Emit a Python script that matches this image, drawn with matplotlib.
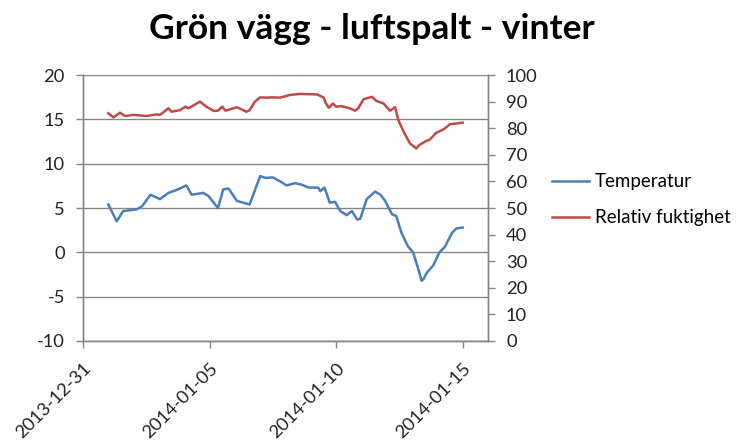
import matplotlib
matplotlib.use("Agg")
import matplotlib.pyplot as plt
import matplotlib.dates as mdates
import pandas as pd

title = "Grön vägg - luftspalt - vinter"
temp_label = "Temperatur"
rh_label = "Relativ fuktighet"

temp_times = [
    "2014-01-01 00:00", "2014-01-01 08:00", "2014-01-01 14:00", "2014-01-02 03:00",
    "2014-01-02 08:00", "2014-01-02 16:00", "2014-01-03 01:00", "2014-01-03 09:00",
    "2014-01-03 18:00", "2014-01-04 02:00", "2014-01-04 07:00", "2014-01-04 18:00",
    "2014-01-04 23:00", "2014-01-05 08:00", "2014-01-05 13:00", "2014-01-05 18:00",
    "2014-01-06 02:00", "2014-01-06 08:00", "2014-01-06 14:00", "2014-01-07 00:00",
    "2014-01-07 05:00", "2014-01-07 12:00", "2014-01-07 19:00", "2014-01-08 01:00",
    "2014-01-08 09:00", "2014-01-08 15:00", "2014-01-08 22:00", "2014-01-09 07:00",
    "2014-01-09 09:00", "2014-01-09 13:00", "2014-01-09 18:00", "2014-01-09 23:00",
    "2014-01-10 04:00", "2014-01-10 10:00", "2014-01-10 15:00", "2014-01-10 20:00",
    "2014-01-10 23:00", "2014-01-11 05:00", "2014-01-11 13:00", "2014-01-11 18:00",
    "2014-01-11 22:00", "2014-01-12 05:00", "2014-01-12 09:00", "2014-01-12 14:00",
    "2014-01-12 20:00", "2014-01-13 01:00", "2014-01-13 06:00", "2014-01-13 09:00",
    "2014-01-13 11:00", "2014-01-13 14:00", "2014-01-13 20:00", "2014-01-14 02:00",
    "2014-01-14 07:00", "2014-01-14 14:00", "2014-01-14 18:00", "2014-01-15 00:00",
]
temp_values = [
    5.4, 3.5, 4.65, 4.85, 5.2, 6.5, 6.0, 6.7,
    7.1, 7.55, 6.5, 6.7, 6.35, 5.0, 7.1, 7.2,
    5.8, 5.6, 5.4, 8.6, 8.4, 8.45, 8.0, 7.55,
    7.8, 7.65, 7.3, 7.3, 6.9, 7.3, 5.6, 5.7,
    4.65, 4.2, 4.65, 3.7, 3.8, 6.0, 6.85, 6.5,
    5.9, 4.3, 4.1, 2.2, 0.7, 0.0, -1.9, -3.2,
    -3.0, -2.3, -1.5, 0.0, 0.6, 2.2, 2.7, 2.8,
]

rh_times = [
    "2014-01-01 00:00", "2014-01-01 05:00", "2014-01-01 11:00", "2014-01-01 16:00",
    "2014-01-02 00:00", "2014-01-02 12:00", "2014-01-02 22:00", "2014-01-03 01:00",
    "2014-01-03 09:00", "2014-01-03 12:00", "2014-01-03 20:00", "2014-01-04 01:00",
    "2014-01-04 04:00", "2014-01-04 15:00", "2014-01-04 21:00", "2014-01-05 04:00",
    "2014-01-05 08:00", "2014-01-05 12:00", "2014-01-05 15:00", "2014-01-06 02:00",
    "2014-01-06 11:00", "2014-01-06 14:00", "2014-01-06 19:00", "2014-01-07 00:00",
    "2014-01-07 06:00", "2014-01-07 12:00", "2014-01-07 19:00", "2014-01-08 04:00",
    "2014-01-08 14:00", "2014-01-09 06:00", "2014-01-09 12:00", "2014-01-09 14:00",
    "2014-01-09 17:00", "2014-01-09 21:00", "2014-01-10 00:00", "2014-01-10 05:00",
    "2014-01-10 13:00", "2014-01-10 18:00", "2014-01-10 21:00", "2014-01-11 02:00",
    "2014-01-11 10:00", "2014-01-11 14:00", "2014-01-11 21:00", "2014-01-12 03:00",
    "2014-01-12 08:00", "2014-01-12 11:00", "2014-01-12 16:00", "2014-01-12 22:00",
    "2014-01-13 04:00", "2014-01-13 07:00", "2014-01-13 12:00", "2014-01-13 17:00",
    "2014-01-13 23:00", "2014-01-14 06:00", "2014-01-14 12:00", "2014-01-15 00:00",
]
rh_values = [
    85.6, 84.1, 85.8, 84.6, 85.0, 84.6, 85.2, 85.0,
    87.5, 86.2, 86.8, 88.1, 87.5, 90.0, 88.1, 86.5,
    86.6, 88.1, 86.6, 87.9, 86.2, 86.8, 90.0, 91.6,
    91.5, 91.6, 91.5, 92.5, 92.9, 92.7, 91.6, 89.6,
    87.7, 89.3, 88.1, 88.3, 87.5, 86.6, 87.5, 90.9,
    91.8, 90.3, 89.3, 86.6, 87.9, 83.1, 78.7, 74.3,
    72.4, 73.7, 74.9, 75.8, 78.3, 79.6, 81.5, 82.1,
]

x_ticks = ["2013-12-31", "2014-01-05", "2014-01-10", "2014-01-15"]
x_limits = ["2013-12-31", "2014-01-16"]
left_ticks = [-10, -5, 0, 5, 10, 15, 20]
right_ticks = [0, 10, 20, 30, 40, 50, 60, 70, 80, 90, 100]

plt.rcParams['font.family'] = ['Lato', 'DejaVu Sans']
plt.rcParams['axes.unicode_minus'] = False

fig = plt.figure(figsize=(7.39, 4.44), dpi=100)
ax = fig.add_axes([0.1123, 0.232, 0.548, 0.599])
ax2 = ax.twinx()

blue = "#4a7ebb"
red = "#be4b48"
grid_c = "#868686"

t_temp = pd.to_datetime(temp_times)
t_rh = pd.to_datetime(rh_times)
l1, = ax.plot(t_temp, temp_values, color=blue, lw=1.8, label=temp_label, zorder=3)
l2, = ax2.plot(t_rh, rh_values, color=red, lw=1.8, label=rh_label, zorder=3)

ax.set_ylim(left_ticks[0], left_ticks[-1])
ax.set_yticks(left_ticks)
ax2.set_ylim(right_ticks[0], right_ticks[-1])
ax2.set_yticks(right_ticks)
ax.set_xlim(pd.to_datetime(x_limits[0]), pd.to_datetime(x_limits[1]))
ax.set_xticks(pd.to_datetime(x_ticks))
ax.xaxis.set_major_formatter(mdates.DateFormatter("%Y-%m-%d"))

ax.grid(axis='y', color=grid_c, lw=1.0)
ax.set_axisbelow(True)
for a in (ax, ax2):
    a.spines['top'].set_visible(False)
    for s in ('left', 'right', 'bottom'):
        a.spines[s].set_color(grid_c)
        a.spines[s].set_linewidth(1.0)
fs = 13.2
ax.tick_params(axis='both', colors=grid_c, labelcolor='#222222', labelsize=fs, length=5, width=1)
ax2.tick_params(axis='y', colors=grid_c, labelcolor='#222222', labelsize=fs, length=5, width=1, pad=8)
ax.tick_params(axis='y', pad=8)
ax.tick_params(axis='x', pad=9)
for lab in ax.get_xticklabels():
    lab.set_rotation(45)
    lab.set_ha('right')
    lab.set_rotation_mode('anchor')

fig.suptitle(title, x=0.503, y=0.97, fontsize=25.5, fontweight='bold')

fig.legend([l1, l2], [temp_label, rh_label], loc='center left',
           bbox_to_anchor=(0.724, 0.55), frameon=False, fontsize=13.5,
           handlelength=2.0, handletextpad=0.3, labelspacing=1.0)

fig.savefig("out.png", dpi=100)
